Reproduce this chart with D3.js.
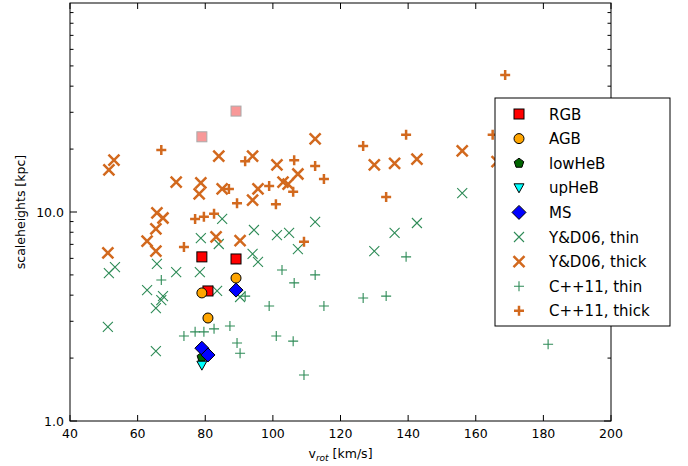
<!DOCTYPE html>
<html><head><meta charset="utf-8">
<script src="https://cdn.jsdelivr.net/npm/d3@7"></script>
<style>
body{margin:0;background:#fff;font-family:"DejaVu Sans",sans-serif;}
text{font-family:"DejaVu Sans",sans-serif;}
</style></head><body>
<svg id="chart" width="688" height="466"></svg>
<script>
// [v_rot, scaleheight]
const rgb = [[79, 6.1], [89.1, 5.96], [80.8, 4.19]];
const rgbFaded = [[89.1, 30.4], [79, 22.9]];
const agb = [[89.1, 4.83], [79, 4.1], [80.8, 3.11]];
const lowHeB = [[79, 2.02]];
const upHeB = [[79, 1.85]];
const ms = [[89.1, 4.23], [79, 2.23], [80.8, 2.07]];
const ydThin = [[85, 9.26], [94.4, 8.2], [101.2, 7.76], [104.8, 7.94], [112.5, 8.96], [78.7, 7.5], [84, 7.03],
  [107.4, 6.65], [94, 6.3], [95.6, 5.77], [65.7, 5.64], [53.3, 5.45], [51.5, 5.1], [71.4, 5.16], [78.4, 5.16],
  [62.8, 4.23], [67.5, 3.96], [67, 3.79], [65.4, 3.47], [83.5, 4.19], [90.3, 3.92], [51.2, 2.82], [65.4, 2.16],
  [130, 6.5], [136, 7.94], [142.6, 8.86], [156, 12.3]];
const ydThick = [[51.5, 15.9], [53, 17.7], [112.5, 22.4], [84, 18.5], [94, 18.5], [101.2, 16.8], [107.4, 15.2],
  [104.5, 13.6], [103, 13.9], [71.4, 13.9], [78.7, 13.8], [78.2, 12.2], [85, 12.9], [95.6, 12.9], [94, 11.4],
  [65.7, 9.9], [67.5, 9.36], [65.4, 8.3], [62.8, 7.26], [65.4, 6.5], [51.2, 6.37], [83.2, 7.6], [90.3, 7.3],
  [130, 16.8], [136, 17.1], [142.6, 17.9], [156, 19.6], [166.3, 17.4]];
const cThin = [[67, 4.73], [102.7, 5.28], [106.3, 4.58], [112.5, 5.0], [91.8, 3.96], [98.9, 3.55], [115.1, 3.55],
  [87.3, 2.85], [82.6, 2.76], [79.6, 2.67], [77, 2.67], [73.7, 2.55], [101, 2.55], [106, 2.41], [89.4, 2.36],
  [90.3, 2.11], [109.2, 1.66], [126.7, 3.88], [133.5, 3.96], [139.4, 6.1], [181.4, 2.33]];
const cThick = [[67, 19.8], [91.8, 17.5], [106.3, 17.7], [112.5, 16.6], [115.1, 14.4], [98.9, 13.3], [87, 12.9],
  [106, 12.5], [89.4, 11.0], [100.9, 10.9], [77, 9.26], [79.6, 9.5], [82.6, 9.8], [73.7, 6.8], [109.2, 7.2],
  [126.7, 20.7], [139.4, 23.4], [133.5, 11.8], [168.7, 45.3], [165, 23.4]];
const xTicks = [40, 60, 80, 100, 120, 140, 160, 180, 200];
const yTicks = [1, 10];
const legendNames = ["RGB", "AGB", "lowHeB", "upHeB", "MS", "Y&D06, thin", "Y&D06, thick", "C++11, thin", "C++11, thick"];

const M = { t: 3, r: 77, b: 45, l: 70 };
const W = 688, H = 466;
const svg = d3.select('#chart');
const x = d3.scaleLinear().domain([40, 200]).range([M.l, W - M.r]);
const y = d3.scaleLog().domain([1, 100]).range([H - M.b, M.t]);
const ORANGE = '#d2691e', GREEN = '#2e8b57';

// marker drawers: g at point, draws centered on 0,0
const mk = {
  sq: (g, fill, stroke, op) => g.append('rect').attr('x', -5).attr('y', -5).attr('width', 10).attr('height', 10)
    .attr('fill', fill).attr('stroke', stroke).attr('opacity', op || 1),
  circ: g => g.append('circle').attr('r', 5).attr('fill', 'orange').attr('stroke', '#000'),
  pent: g => g.append('path').attr('d', d3.symbol(d3.symbolStar).size(0)()).attr('fill', 'none')
    .call(() => g.append('path').attr('d', pentagon(5)).attr('fill', '#006400').attr('stroke', '#000')),
  tri: g => g.append('path').attr('d', 'M-5,-4L5,-4L0,5Z').attr('fill', 'cyan').attr('stroke', '#000'),
  dia: g => g.append('path').attr('d', 'M0,-7L7,0L0,7L-7,0Z').attr('fill', 'blue').attr('stroke', '#000'),
  xThin: g => g.append('path').attr('d', 'M-5,-5L5,5M-5,5L5,-5').attr('stroke', GREEN).attr('stroke-width', 1.1),
  xThick: g => g.append('path').attr('d', 'M-5.5,-5.5L5.5,5.5M-5.5,5.5L5.5,-5.5').attr('stroke', ORANGE).attr('stroke-width', 2.5),
  pThin: g => g.append('path').attr('d', 'M-5,0L5,0M0,-5L0,5').attr('stroke', GREEN).attr('stroke-width', 1.1),
  pThick: g => g.append('path').attr('d', 'M-5,0L5,0M0,-5L0,5').attr('stroke', ORANGE).attr('stroke-width', 2.5),
};
function pentagon(r) {
  return d3.range(5).map(i => {
    const a = -Math.PI / 2 + i * 2 * Math.PI / 5;
    return (i ? 'L' : 'M') + (r * Math.cos(a)).toFixed(2) + ',' + (r * Math.sin(a)).toFixed(2);
  }).join('') + 'Z';
}
const drawers = [
  g => mk.sq(g, 'red', '#000'), mk.circ, mk.pent, mk.tri, mk.dia, mk.xThin, mk.xThick, mk.pThin, mk.pThick
];
const series = [rgb, agb, lowHeB, upHeB, ms, ydThin, ydThick, cThin, cThick];

function plot(data, draw) {
  data.forEach(d => draw(svg.append('g').attr('transform', `translate(${x(d[0])},${y(d[1])})`)));
}
plot(rgbFaded, g => mk.sq(g, '#f89898', '#aaa'));
// draw literature first, then own data on top
[5, 6, 7, 8, 0, 1, 2, 3, 4].forEach(i => plot(series[i], drawers[i]));

// frame + ticks
const x0 = M.l, x1 = W - M.r, y0 = M.t, y1 = H - M.b;
const ax = svg.append('g').attr('stroke', '#000').attr('fill', 'none');
ax.append('rect').attr('x', x0).attr('y', y0).attr('width', x1 - x0).attr('height', y1 - y0);
xTicks.forEach(t => {
  ax.append('line').attr('x1', x(t)).attr('x2', x(t)).attr('y1', y1).attr('y2', y1 - 6);
  ax.append('line').attr('x1', x(t)).attr('x2', x(t)).attr('y1', y0).attr('y2', y0 + 6);
  svg.append('text').attr('x', x(t)).attr('y', y1 + 17).attr('text-anchor', 'middle').attr('font-size', 12.5).text(t);
});
for (let dec = 1; dec < 100; dec *= 10) for (let k = 1; k < 10; k++) {
  const v = dec * k, len = k === 1 ? 7 : 3.5;
  ax.append('line').attr('x1', x0).attr('x2', x0 + len).attr('y1', y(v)).attr('y2', y(v));
  ax.append('line').attr('x1', x1).attr('x2', x1 - len).attr('y1', y(v)).attr('y2', y(v));
}
yTicks.forEach(t => svg.append('text').attr('x', x0 - 6).attr('y', y(t) + 4.5).attr('text-anchor', 'end')
  .attr('font-size', 12.5).text(t.toFixed(1)));

svg.append('text').attr('transform', `translate(25,${(y0 + y1) / 2}) rotate(-90)`).attr('text-anchor', 'middle')
  .attr('font-size', 12.5).text('scaleheights [kpc]');
const xl = svg.append('text').attr('x', (x0 + x1) / 2).attr('y', 458).attr('text-anchor', 'middle').attr('font-size', 12.5);
xl.append('tspan').text('v');
xl.append('tspan').attr('font-size', 9).attr('dy', 3).attr('font-style', 'italic').text('rot');
xl.append('tspan').attr('dy', -3).text(' [km/s]');

// legend
const lg = svg.append('g').attr('transform', 'translate(495,98)');
lg.append('rect').attr('width', 175).attr('height', 228).attr('fill', '#fff').attr('stroke', '#000');
legendNames.forEach((n, i) => {
  const g = lg.append('g').attr('transform', `translate(24,${16 + i * 24.6})`);
  drawers[i](g);
  lg.append('text').attr('x', 54).attr('y', 16 + i * 24.6 + 5.5).attr('font-size', 15).text(n);
});
</script></body></html>
